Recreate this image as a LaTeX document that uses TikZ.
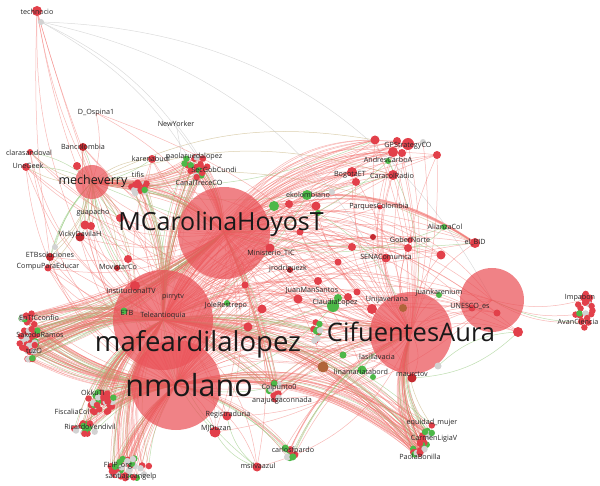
\documentclass[tikz,border=0pt]{standalone}
\usepackage{fontspec}
\setmainfont{Open Sans}
\usetikzlibrary{backgrounds}
\definecolor{hubred}{HTML}{EA5258}
\definecolor{nred}{HTML}{E2404A}
\definecolor{dred}{HTML}{C42A30}
\definecolor{ngreen}{HTML}{4DB848}
\definecolor{ngrey}{HTML}{D2D2D2}
\definecolor{nbrown}{HTML}{B0643A}
\definecolor{ered}{HTML}{F06A66}
\definecolor{egreen}{HTML}{92C77A}
\definecolor{eolive}{HTML}{B8A060}
\definecolor{egrey}{HTML}{C4C4C4}
\tikzset{
  hub/.style={circle,fill=hubred,fill opacity=0.72,inner sep=0,minimum size=#1},
  cdot/.style 2 args={circle,fill=#1,inner sep=0,minimum size=#2},
  lbl/.style={font=\fontsize{7.2}{8}\selectfont,text=black!85,inner sep=0},
  biglbl/.style={font=\fontsize{#1}{#1}\selectfont,text=black!90,inner sep=0},
  redge/.style={draw=ered,draw opacity=0.48,line width=0.5},
  gedge/.style={draw=egreen,draw opacity=0.6,line width=0.5},
  oedge/.style={draw=eolive,draw opacity=0.5,line width=0.5},
  yedge/.style={draw=egrey,draw opacity=0.6,line width=0.5},
}
\newcommand\mkcl[8]{%
  \foreach \i in {1,...,#6}{%
    \pgfmathsetmacro\ang{360*rnd}%
    \pgfmathsetmacro\rr{sqrt(rnd)}%
    \pgfmathsetmacro\dy{#5*\rr*sin(\ang)}%
    \pgfmathsetmacro\px{#2+#4*\rr*cos(\ang)+#8*\dy}%
    \pgfmathsetmacro\py{#3+\dy}%
    \pgfmathsetmacro\cc{rnd}%
    \pgfmathtruncatemacro\ci{\cc<0.6 ? 1 : (\cc<0.82 ? 2 : 3)}%
    \ifcase\ci\or\def\cn{nred}\or\def\cn{ngreen}\or\def\cn{ngrey}\fi
    \node[cdot={\cn}{#7}] (#1-\i) at (\px,\py) {};
  }}
\newcommand\cledges[4]{% name N target bend
  \foreach \i in {1,...,#2}{%
    \pgfmathsetmacro\bb{#4+8*rnd}%
    \pgfmathsetmacro\cc{rnd}%
    \pgfmathtruncatemacro\ci{\cc<0.72 ? 1 : (\cc<0.88 ? 2 : 3)}%
    \ifcase\ci\or\def\es{redge}\or\def\es{gedge}\or\def\es{oedge}\fi
    \draw[style=\es] (#1-\i.center) to[bend left=\bb] (#3.center);
  }}
\begin{document}
\begin{tikzpicture}[x=1pt,y=-1pt]
\pgfmathsetseed{7}
\useasboundingbox (0,0) rectangle (600,486);
% hubs
\node[hub=92] (MC) at (224,233) {};
\node[hub=100] (MF) at (163,320) {};
\node[hub=90] (NM) at (176,385) {};
\node[hub=82] (CA) at (411,333) {};
\node[hub=64] (UN) at (492,300) {};
\node[hub=34] (ME) at (92,182) {};
% explicit nodes
\foreach \n/\x/\y/\s/\c in {
  tech/37/11/10/nred, techg/41/22/6/ngrey,
  banc/83/147/8/dred, clara/30/152/6/nred, une/26/167/8/nred, mex/77/166/8/nred,
  karen/152/159/8/nred, guap1/85/225/9/nred, guap2/91/226/8/nred, mcg/120/218/8/nred,
  vicky/80/237/9/dred, etbg/55/247/6/ngrey, etbs/50/257/8/dred, compu/48/268/7/nred,
  movis/128/259/8/nred, movis2/117/268/6/dred, instit/135/286/10/nred, etb/124/311/7/ngreen,
  jole/227/303/6/ngreen, mint/270/248/9/nred, jrod/290/270/6/dred, m1/262/309/9/nred,
  m2/248/327/9/nred, jms/298/299/9/nred, claud/333/306/12/ngreen, claud2/338/298/8/ngreen,
  m3/348/297/8/nred, m4/357/292/7/nred, unij/372/309/10/nred, unij2/403/308/8/nbrown,
  m5/352/247/8/nred, m6/373/237/6/dred, sena/386/258/9/nred, gob1/408/248/8/nred,
  gob2/410/240/6/nred, r441/441/255/9/nred, ali/444/227/6/ngreen, bid/475/243/10/nred,
  juank/439/295/6/ngreen, un1/472/308/7/nred, un2/497/313/7/nred, r518/518/332/10/nred,
  greyn/438/366/7/ngrey, maur/412/378/9/dred, lasi/343/355/7/ngreen, lina1/323/367/11/nbrown,
  lina2/362/370/9/ngreen, lina3/373/377/6/ngreen, regis/227/416/9/nred, mjd/215/432/11/nred,
  msil/257/467/9/nred, ekol/307/195/10/ngreen, e2/274/206/10/ngreen, e3/289/204/8/nred,
  e4/316/206/9/nred, e5/318/213/6/ngreen, e6/332/192/6/ngrey, bog1/352/172/10/nred,
  bog2/356/182/8/nred, car/393/175/10/nred, parq/380/207/5/nred, andres/388/161/6/ngreen,
  g1/375/140/9/nred, g2/397/141/8/nred, g3/408/144/12/nred, g4/393/152/10/nred,
  g5/402/153/8/nred, g6/423/142/6/ngrey, g7/437/155/8/nred, r332/338/262/7/nred,
  r300/318/281/8/nred, r280/245/285/7/nred, r235/300/232/7/nred}
  {\node[cdot={\c}{\s}] (\n) at (\x,\y) {};}
% clusters
\mkcl{entic}{28}{337}{10}{25}{46}{6.5}{0}
\mkcl{okku}{100}{402}{16}{11}{30}{6.5}{0}
\mkcl{rica}{86}{428}{14}{6}{14}{6.5}{0}
\mkcl{flip}{130}{468}{20}{11}{32}{6.5}{0}
\mkcl{carm}{424}{440}{7}{20}{30}{6.5}{-0.6}
\mkcl{impa}{584}{310}{10}{18}{24}{6.5}{0}
\mkcl{paola}{196}{166}{12}{12}{22}{6.5}{0}
\mkcl{tifis}{142}{187}{11}{9}{14}{6.5}{0}
\mkcl{colp}{275}{390}{6}{11}{10}{6.5}{0}
\mkcl{carlos}{289}{454}{7}{7}{8}{7}{0}
\mkcl{mid}{318}{333}{5}{13}{12}{6.5}{0}
% labels
\node[biglbl=25] (lMC) at (221,224) {MCarolinaHoyosT};
\node[biglbl=27.5] (lMF) at (198,344) {mafeardilalopez};
\node[biglbl=30.5] (lNM) at (189,385) {nmolano};
\node[biglbl=25.5] (lCA) at (411,332) {CifuentesAura};
\node[biglbl=12.5] (lME) at (93,181) {mecheverry};
\foreach \n/\x/\y/\t in {
  tech/37/12/technocio, dosp/96/113/D\_Ospina1, newy/176/124/NewYorker,
  banc/83/147/Bancolombia, clara/29/153/clarasandoval, une/28/166/UneGeek,
  karen/151/159/karenabudi, paola/194/157/paolaruedalopez, secgob/214/170/SecGobCundi,
  canal/199/183/CanalTreceCO, tifis/138/175/tifis, guap/93/213/guapacho,
  vicky/80/235/VickyDavilaH, etbs/50/255/ETBsoluciones, compu/48/267/CompuParaEducar,
  movis/118/267/MovistarCo, instit/131/291/InstitucionalTV, pirry/173/297/pirrytv,
  etb/127/313/ETB, telea/163/316/Teleantioquia, jole/226/306/JoleRestrepo,
  mint/271/253/Ministerio\_TIC, jrod/288/269/jrodriguezk, jms/312/291/JuanManSantos,
  claud/335/303/ClaudiaLopez, unij/387/300/Unijaveriana, lasi/377/357/lasillavacia,
  lina/361/372/linamariatabord, maur/412/374/maurctov, colp/279/388/Colpunto0,
  ana/282/401/anajuegaconnada, regis/228/415/Registraduria, mjd/216/429/MJDuzan,
  carlos/293/451/carlosfpardo, msil/258/466/msilvaazul, equi/432/423/equidad\_mujer,
  carm/434/439/CarmenLigiaV, paob/420/457/PaolaBonilla, flip/118/466/FLIP\_org,
  sant/131/477/santiagoangelp, rica/90/427/RicardoVendivil, fisc/72/412/FiscaliaCol,
  okku/93/393/OkkuTI, entic/39/318/EnTICconfio, saked/40/335/SakedoRamos, tuzo/34/351/tuzO,
  impa/580/298/Impabon, avan/578/322/AvanCiencia, juank/439/293/juankarenium,
  unesco/470/306/UNESCO\_es, bid/475/242/el\_BID, ali/445/227/AlianzaCol,
  gob/410/240/GoberNorte, sena/386/257/SENAComunica, parq/379/207/ParquesColombia,
  bog/350/175/BogotaET, car/392/176/CaracolRadio, andres/388/160/AndresCarboA,
  gps/408/146/GPStrategyCO, ekol/308/195/ekolombiano}
  {\node[lbl] (l\n) at (\x,\y) {\t};}
% edges
\begin{scope}[on background layer]
\foreach \a/\b/\bd in {MC/MF/20, MC/NM/25, MC/CA/20, MC/UN/25, MF/NM/20, MF/CA/20,
  NM/CA/20, CA/UN/25, MF/UN/22, ME/MC/20, ME/MF/20, ME/NM/25, ME/CA/25, MC/CA/35, MF/CA/30,
  MC/UN/40, NM/UN/30}
  {\draw[redge] (\a.center) to[bend left=\bd] (\b.center);
   \draw[redge] (\a.center) to[bend right=\bd] (\b.center);}
\foreach \h in {MC,MF,NM,CA}{
 \foreach \b in {g1,g2,g3,g4,g5,g7,car,bog1,bog2,parq,sena,gob1,gob2,bid,r441,unij,jms,claud,
   mint,jrod,m1,m2,m3,m4,m5,m6,karen,banc,movis,vicky,guap1,etbs,compu,instit,une,clara,
   e2,e3,e4,ekol,lasi,lina1,lina2,maur,regis,mjd,msil,juank,un1,un2,r518,r332,r300,r280,r235}
  {\pgfmathsetmacro\bb{15+15*rnd}\draw[redge] (\h.center) to[bend left=\bb] (\b.center);}}
\foreach \b in {g1,g3,g4,car,bog1,bid,sena,gob1,unij,claud,jms,m5,r441,e3,e4}
  {\pgfmathsetmacro\bb{25+15*rnd}\draw[redge] (MC.center) to[bend left=\bb] (\b.center);
   \draw[redge] (MF.center) to[bend left=\bb] (\b.center);}
\foreach \b in {banc,clara,une,mex,guap1,guap2,vicky,etbs,compu,karen,movis,movis2,instit,
  mcg,etbg,g1,car,bid}
  {\draw[oedge] (ME.center) to[bend left=18] (\b.center);
   \draw[gedge] (ME.center) to[bend right=14] (\b.center);}
\foreach \a/\b in {andres/MC,andres/car,andres/CA,ekol/MF,e2/MC,e5/CA,claud/NM,claud2/MF,
  lasi/CA,lina2/CA,jole/MF,etb/NM,msil/regis,msil/mjd,msil/MF,greyn/r518,r518/maur,
  lina1/NM,mjd/MF,ali/gob1,ali/MC}
  {\draw[gedge] (\a.center) to[bend left=20] (\b.center);}
\draw[ered,draw opacity=0.6,line width=2] (ekol.center) to[bend left=18] (bid.center);
\draw[ered,draw opacity=0.5,line width=1.2] (e2.center) to[bend left=22] (bid.center);
\foreach \b/\bd in {ME/8,MF/6,NM/4,instit/10,vicky/12,etbs/5}
  {\draw[redge] (tech.center) to[bend right=\bd] (\b.center);}
\foreach \b/\bd in {MC/20,CA/28,paola-1/15,UN/30}
  {\draw[yedge] (techg.center) to[bend left=\bd] (\b.center);}
\foreach \b in {MC,CA,ME}{\draw[redge] (ldosp.center) to[bend left=15] (\b.center);}
\foreach \b in {MC,MF}{\draw[yedge] (lnewy.center) to[bend left=15] (\b.center);}
\foreach \g in {g1,g2,g3,g4,g5,g6,g7,bog1,car}
  {\draw[redge] (\g.center) to[bend right=25] (MF.center);
   \draw[redge] (\g.center) to[bend left=10] (CA.center);}
\cledges{entic}{46}{MF}{12}
\cledges{entic}{46}{NM}{-20}
\cledges{entic}{46}{MC}{-14}
\cledges{okku}{30}{MF}{15}
\cledges{okku}{30}{NM}{10}
\cledges{rica}{14}{NM}{12}
\cledges{rica}{14}{MF}{18}
\cledges{flip}{32}{NM}{8}
\cledges{flip}{32}{MF}{15}
\cledges{carm}{30}{NM}{-28}
\cledges{carm}{30}{MF}{-25}
\cledges{carm}{30}{CA}{20}
\cledges{paola}{22}{MC}{10}
\cledges{paola}{22}{MF}{-15}
\cledges{paola}{22}{ME}{12}
\cledges{tifis}{14}{MC}{12}
\cledges{tifis}{14}{MF}{8}
\cledges{tifis}{14}{ME}{-15}
\cledges{colp}{10}{MF}{-15}
\cledges{colp}{10}{CA}{15}
\cledges{colp}{10}{MC}{-12}
\cledges{carlos}{8}{CA}{15}
\cledges{carlos}{8}{NM}{-20}
\cledges{mid}{12}{MF}{-12}
\cledges{mid}{12}{CA}{10}
\cledges{impa}{4}{UN}{10}
\end{scope}
\end{tikzpicture}
\end{document}
